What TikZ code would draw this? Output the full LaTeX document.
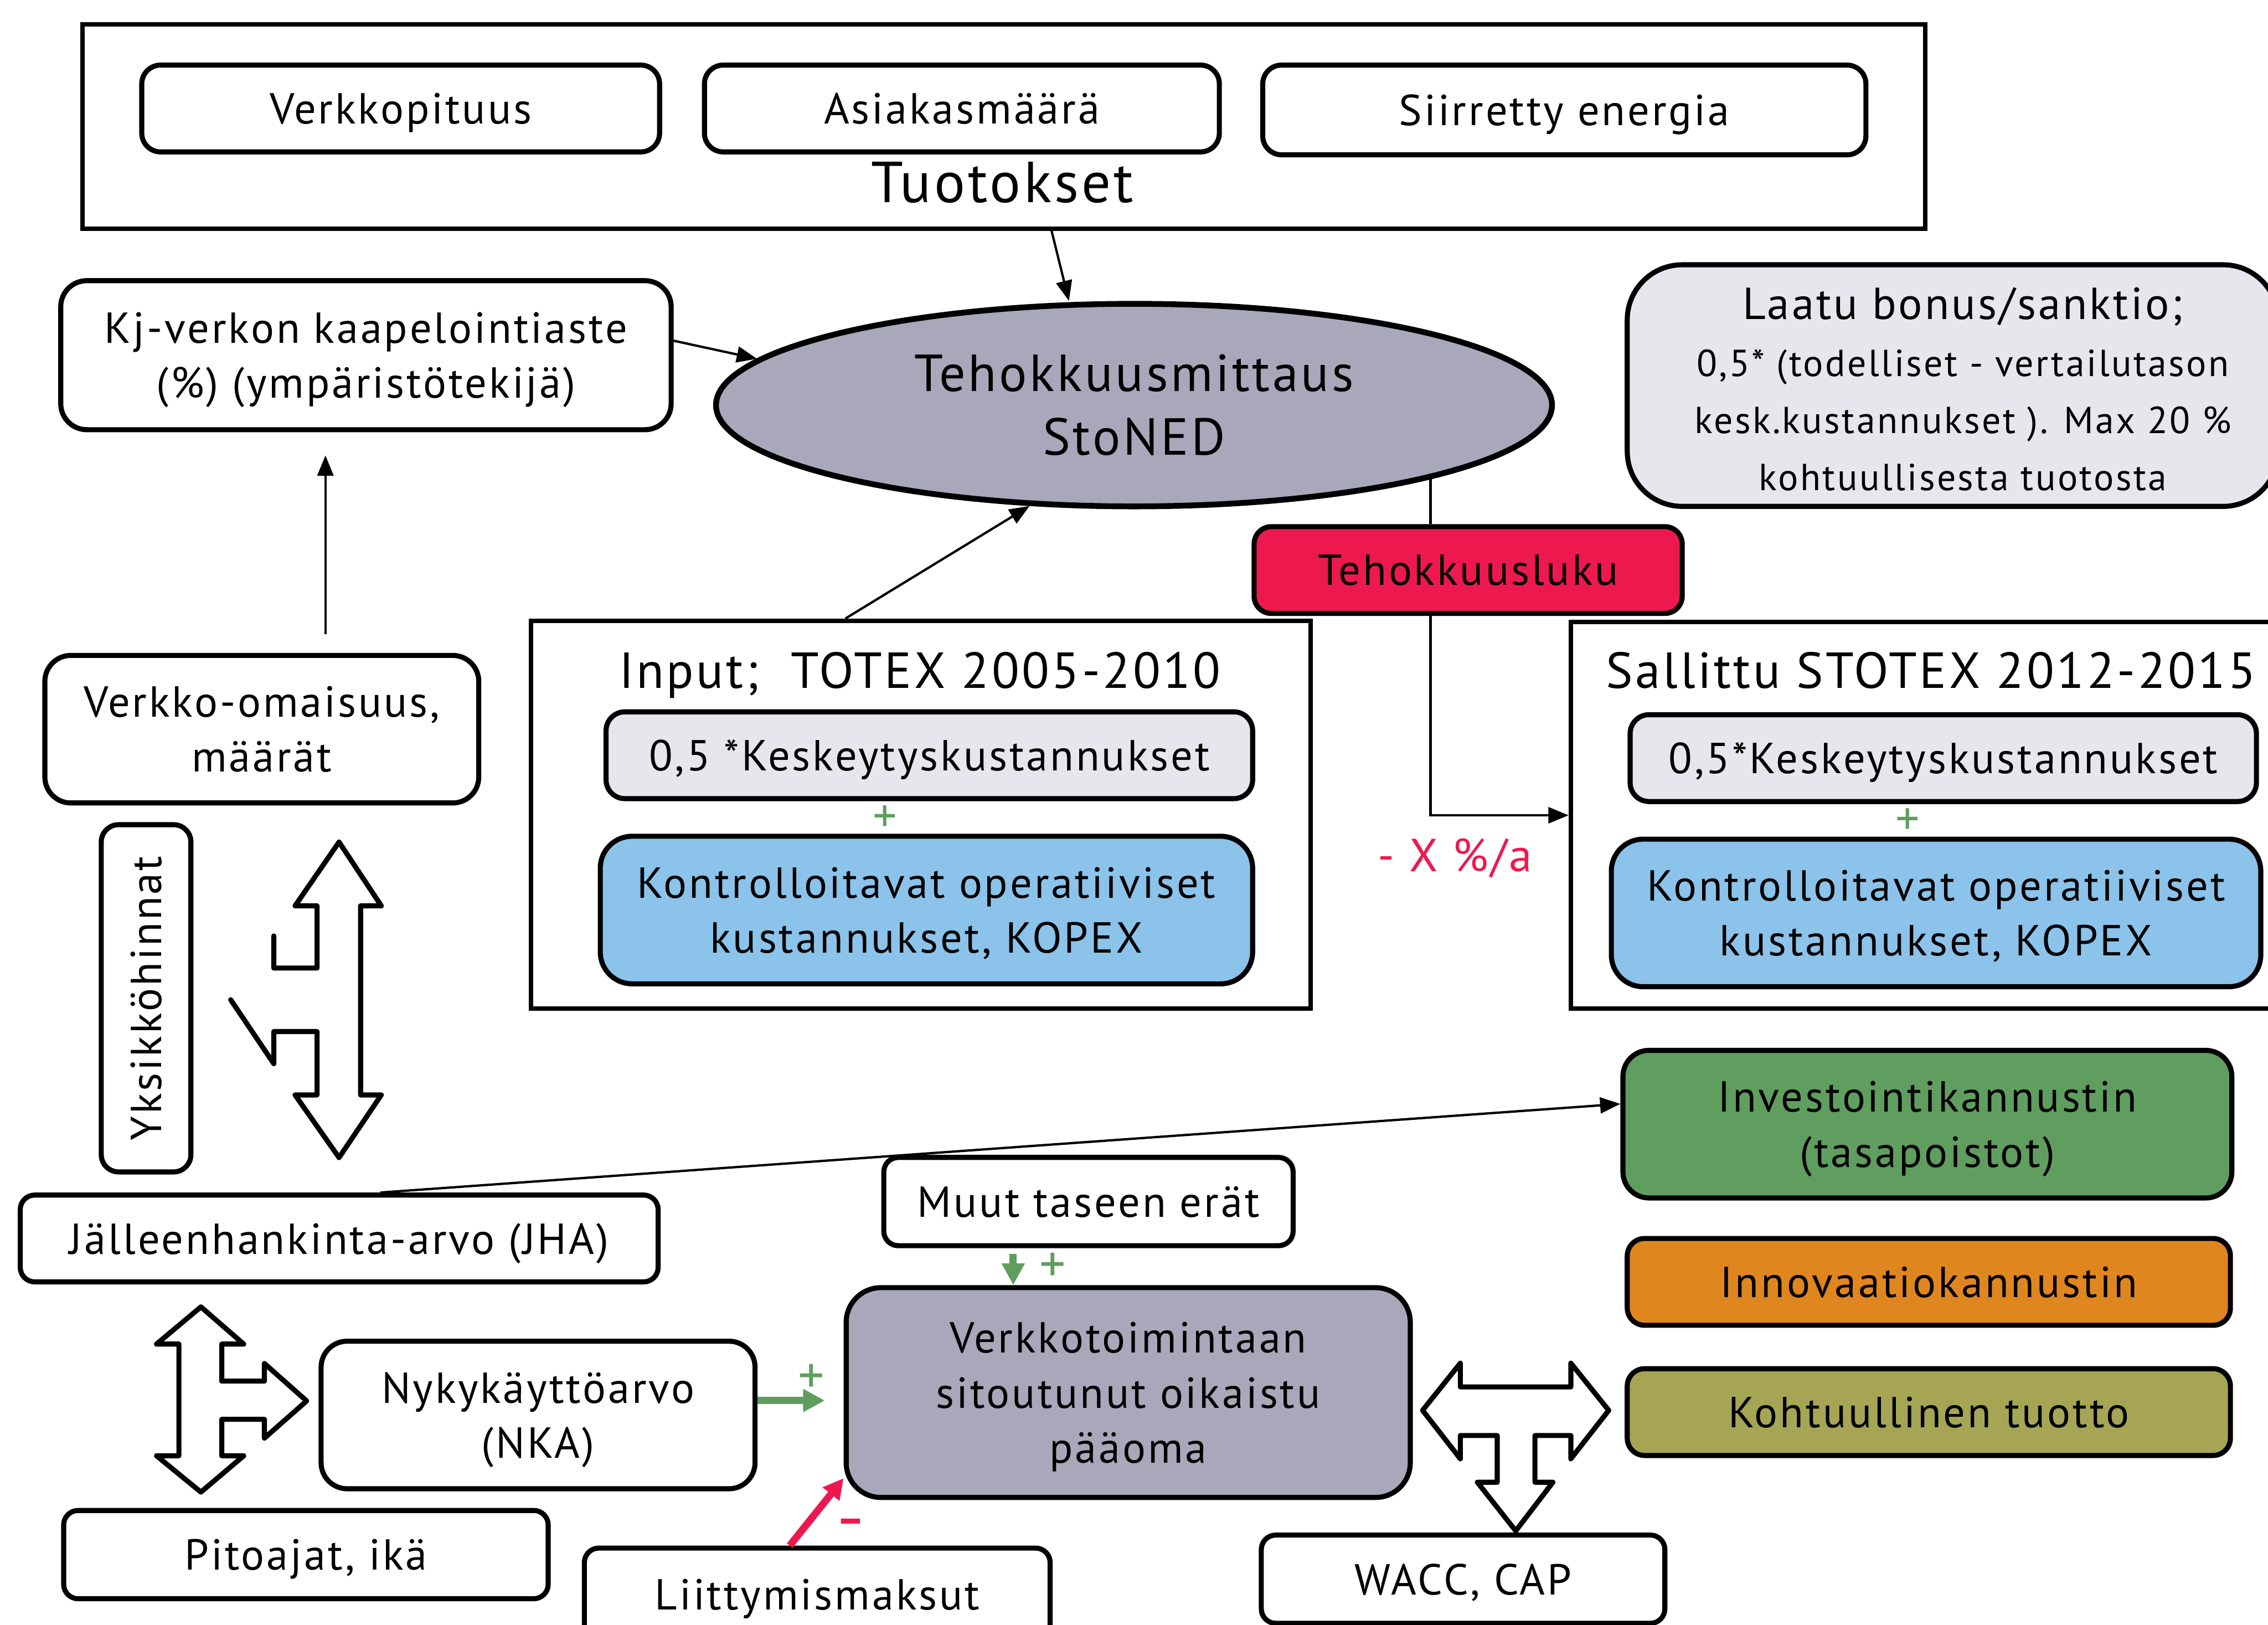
\documentclass[tikz,border=0pt]{standalone}
\usepackage{fontspec}
\setmainfont[LetterSpace=5]{PT Sans}
\usetikzlibrary{arrows.meta,shapes.geometric}

\definecolor{lavgrey}{RGB}{168,168,186}
\definecolor{palegrey}{RGB}{230,230,236}
\definecolor{skyblue}{RGB}{139,195,234}
\definecolor{crimson}{RGB}{237,25,78}
\definecolor{leafgreen}{RGB}{95,158,95}
\definecolor{amber}{RGB}{224,134,30}
\definecolor{olivefill}{RGB}{166,165,84}

\pgfdeclarelayer{background}
\pgfsetlayers{background,main}

\newcommand\fsz[2]{\fontsize{#1pt}{#2pt}\selectfont}

\tikzset{
  rbox/.style={draw=black, line width=3.5pt, rounded corners=13pt, inner sep=0pt,
               align=center, font=\fsz{30}{38}, fill=white, text depth=0pt},
  frame/.style={draw=black, line width=3pt, inner sep=0pt},
  title/.style={inner sep=0pt, text depth=0pt},
  link/.style={draw=black, line width=1.6pt, -{Triangle[length=14pt,width=11pt]}},
  plain/.style={draw=black, line width=1.6pt},
  greenarrow/.style={draw=leafgreen, line width=5pt, -{Triangle[length=15pt,width=15pt]}},
  pinkarrow/.style={draw=crimson, line width=5pt, -{Triangle[length=14pt,width=14pt]}},
  blockarrow/.style={draw=black, fill=white, line width=3.5pt, line join=round, line cap=round},
  sign/.style={inner sep=0pt, font=\fsz{36}{36}},
}

\begin{document}
\begin{tikzpicture}[x=1pt,y=-1pt]
\useasboundingbox (0,0) rectangle (1568,1123);
\clip (0,0) rectangle (1568,1123);

% --- outputs ---
\node[frame, minimum width=1274pt, minimum height=141pt] (tuot) at (694,87.5) {};
\node[title, font=\fsz{40}{46}] (tuottitle) at (693,126) {Tuotokset};
\node[rbox, minimum width=358pt, minimum height=60pt] (verk) at (277,75) {Verkkopituus};
\node[rbox, minimum width=356pt, minimum height=60pt] (asiak) at (665,75) {Asiakasmäärä};
\node[rbox, minimum width=417pt, minimum height=62pt] (siirr) at (1081.5,76) {Siirretty energia};

% --- efficiency measurement ---
\node[rbox, rounded corners=18pt, minimum width=422pt, minimum height=103pt] (kj) at (253,245.5)
  {Kj-verkon kaapelointiaste\\(\%) (ympäristötekijä)};
\node[ellipse, draw=black, line width=4pt, fill=lavgrey, minimum width=578pt, minimum height=140pt,
      inner sep=0pt, align=center, font=\fsz{36}{44}] (stoned) at (784,280) {Tehokkuusmittaus\\StoNED};
\node[rbox, rounded corners=38pt, fill=palegrey, minimum width=450pt, minimum height=167pt] (laatu) at (1350,266.5) {};
\node[align=center, inner sep=0pt, font=\fsz{26}{39.5}] (laatutxt) at (1357,269)
  {{\fsz{31}{39.5}Laatu bonus/sanktio;}\\0,5* (todelliset - vertailutason\\kesk.kustannukset ). Max 20 \%\\kohtuullisesta tuotosta};
\node[rbox, fill=crimson, rounded corners=12pt, minimum width=296pt, minimum height=60pt] (tehol) at (1015,394) {Tehokkuusluku};
\node[inner sep=0pt, text=crimson, font=\fsz{32}{38}] (xrate) at (1006,593) {- X \%/a};

% --- input costs ---
\node[frame, minimum width=539pt, minimum height=268pt] (inp) at (636.5,563) {};
\node[title, font=\fsz{35}{42}] (inptitle) at (636,463) {Input;\ \ TOTEX 2005-2010};
\node[rbox, fill=palegrey, minimum width=447pt, minimum height=60pt] (inkesk) at (642.5,522) {0,5 *Keskeytyskustannukset};
\node[sign, text=leafgreen, font=\fsz{33}{33}] (inplus) at (612,566) {+};
\node[rbox, fill=skyblue, rounded corners=22pt, minimum width=451pt, minimum height=102pt] (inkopex) at (640.5,629)
  {Kontrolloitavat operatiiviset\\kustannukset, KOPEX};

% --- allowed costs ---
\node[frame, minimum width=514pt, minimum height=267pt] (sall) at (1343,563.5) {};
\node[title, font=\fsz{35}{42}] (salltitle) at (1335,463) {Sallittu STOTEX 2012-2015};
\node[rbox, fill=palegrey, minimum width=433pt, minimum height=60pt] (sallkesk) at (1343.5,524) {0,5*Keskeytyskustannukset};
\node[sign, text=leafgreen, font=\fsz{33}{33}] (sallplus) at (1319,568) {+};
\node[rbox, fill=skyblue, rounded corners=22pt, minimum width=449pt, minimum height=102pt] (sallkopex) at (1338.5,631)
  {Kontrolloitavat operatiiviset\\kustannukset, KOPEX};

% --- asset base ---
\node[rbox, rounded corners=18pt, minimum width=300pt, minimum height=102pt] (omais) at (181,504) {Verkko-omaisuus,\\määrät};
\node[rbox, rotate=90, rounded corners=12pt, minimum width=240pt, minimum height=62pt] (yks) at (101,690) {Yksikköhinnat};
\node[rbox, rounded corners=10pt, minimum width=441pt, minimum height=60pt] (jha) at (234.5,856) {Jälleenhankinta-arvo (JHA)};
\node[rbox, rounded corners=18pt, minimum width=300pt, minimum height=102pt] (nka) at (372,978) {Nykykäyttöarvo\\(NKA)};
\node[rbox, rounded corners=10pt, minimum width=335pt, minimum height=61pt] (pito) at (211.5,1074.5) {Pitoajat, ikä};
\node[rbox, rounded corners=10pt, minimum width=322pt, minimum height=64pt] (liit) at (565,1102) {Liittymismaksut};
\node[rbox, rounded corners=10pt, minimum width=283pt, minimum height=61pt] (muut) at (752.5,830.5) {Muut taseen erät};
\node[rbox, fill=lavgrey, rounded corners=24pt, minimum width=390pt, minimum height=145pt] (sitou) at (780,962.5)
  {Verkkotoimintaan\\sitoutunut oikaistu\\pääoma};
\node[rbox, rounded corners=10pt, minimum width=279pt, minimum height=61pt] (wacc) at (1011.5,1091.5) {WACC, CAP};

% --- incentives ---
\node[rbox, fill=leafgreen, rounded corners=18pt, minimum width=421pt, minimum height=102pt] (invest) at (1332.5,777)
  {Investointikannustin\\(tasapoistot)};
\node[rbox, fill=amber, rounded corners=12pt, minimum width=417pt, minimum height=60pt] (innov) at (1333.5,886) {Innovaatiokannustin};
\node[rbox, fill=olivefill, rounded corners=12pt, minimum width=417pt, minimum height=60pt] (kohtu) at (1333.5,976) {Kohtuullinen tuotto};

% --- connectors ---
\begin{pgfonlayer}{background}
  \draw[plain] ([xshift=-26pt]tehol.north) -- ([xshift=-26pt]tehol.north |- stoned.center);
\end{pgfonlayer}
\draw[link] ([xshift=33pt]tuot.south) -- ([xshift=-45pt]stoned.north);
\draw[link] ([yshift=10pt]kj.east) -- (stoned.173);
\draw[link] ([xshift=-52pt]inp.north) -- (stoned.224);
\draw[link] ([xshift=-26pt]tehol.south) |- (sall.west);
\draw[link, shorten <=13pt, shorten >=16pt] ([xshift=44pt]omais.north) -- ([xshift=-28pt]kj.south);
\draw[link] ([xshift=28.5pt]jha.north) -- ([yshift=14pt]invest.west);
\draw[greenarrow, shorten >=13pt] ([yshift=10pt]nka.east) -- ([yshift=-5.5pt]sitou.west);
\draw[greenarrow, shorten <=4pt] ([xshift=-52pt]muut.south) -- ([xshift=-79.5pt]sitou.north);
\draw[pinkarrow] ([xshift=-19pt]liit.north) -- ([yshift=15pt]sitou.south west);
\node[sign, text=leafgreen] (nkaplus) at (561,953) {+};
\node[sign, text=leafgreen] (muutplus) at (728,876) {+};
\node[sign, text=crimson, font=\bfseries\fsz{30}{30}] (liitminus) at (588,1055) {–};

% --- block arrows ---
% vertical double arrow with a break
\draw[blockarrow, fill=none] (189.3,646.9) -- (189.3,669.1) -- (219.2,669.1) -- (219.2,626.1) -- (204.0,626.1)
  -- (234.4,582.0) -- (263.6,626.1) -- (249.3,626.1) -- (249.3,756.8) -- (263.6,756.8) -- (234.4,800.1)
  -- (204.0,756.8) -- (219.2,756.8) -- (219.2,713.0) -- (189.3,713.0) -- (189.3,735.2) -- (159.5,691.0);
% up/down/right arrow
\draw[blockarrow] (138.9,903.3) -- (168.5,929.0) -- (153.3,929.0) -- (153.3,954.6) -- (182.8,954.6)
  -- (182.8,942.4) -- (212.0,968.3) -- (182.8,994.0) -- (182.8,981.0) -- (153.3,981.0) -- (153.3,1006.2)
  -- (168.5,1006.2) -- (138.9,1031.3) -- (108.2,1006.2) -- (123.7,1006.2) -- (123.7,929.0) -- (108.2,929.0) -- cycle;
% left/right/down arrow
\draw[blockarrow] (983.5,974.8) -- (1009.6,942.2) -- (1009.6,958.6) -- (1086.0,958.6) -- (1086.0,942.2)
  -- (1112.2,974.8) -- (1086.0,1008.3) -- (1086.0,992.2) -- (1061.2,992.2) -- (1061.2,1024.5) -- (1073.6,1024.5)
  -- (1047.9,1058.1) -- (1021.4,1024.5) -- (1035.1,1024.5) -- (1035.1,992.2) -- (1009.6,992.2) -- (1009.6,1008.3) -- cycle;
\end{tikzpicture}
\end{document}
